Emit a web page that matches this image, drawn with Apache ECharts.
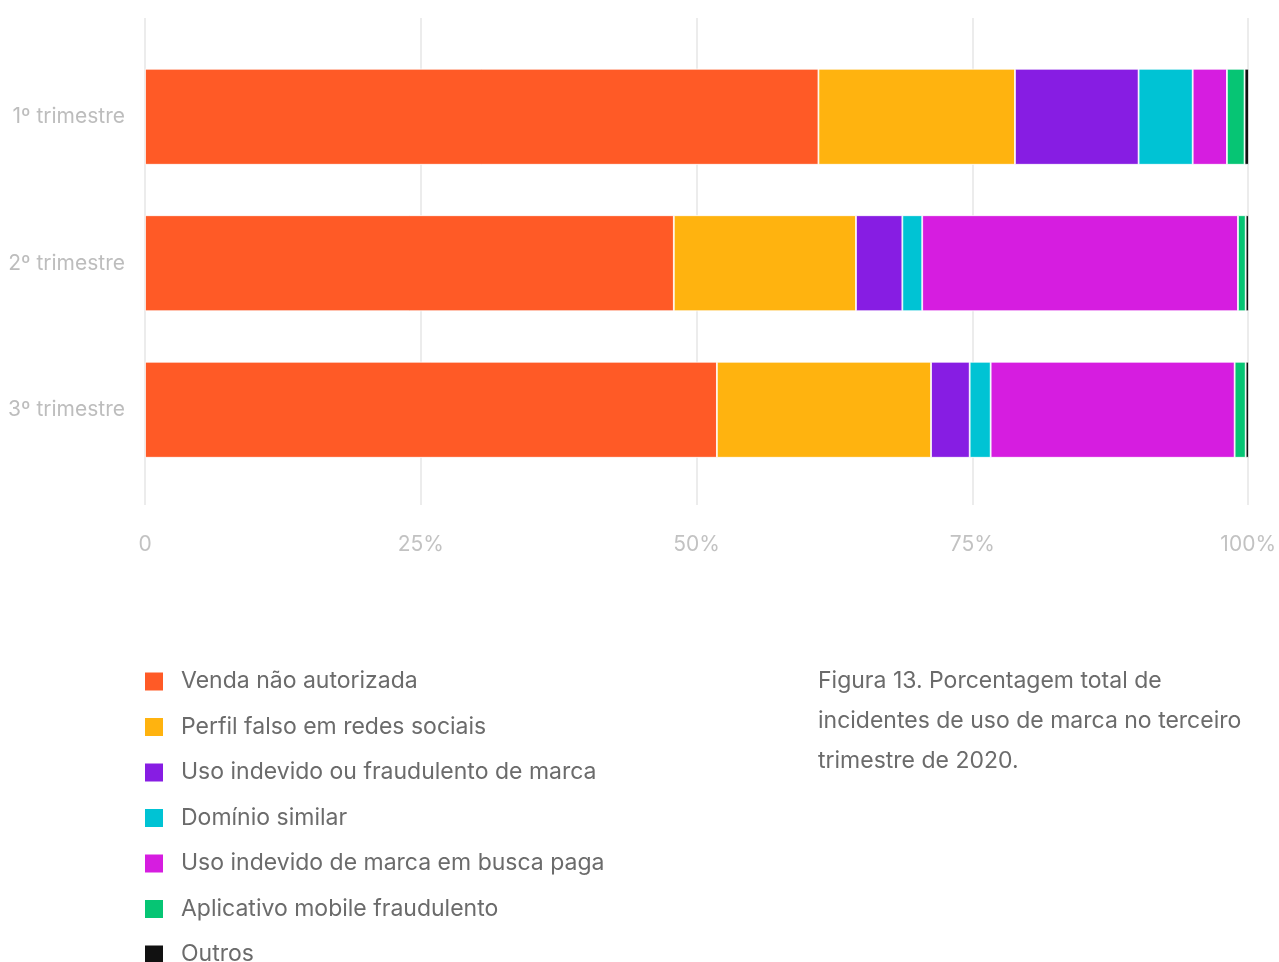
<!DOCTYPE html>
<html>
<head>
<meta charset="utf-8">
<script src="https://cdn.jsdelivr.net/npm/echarts@6/dist/echarts.min.js"></script>
<style>
  html, body { margin: 0; padding: 0; background: #ffffff; }
  #chart { width: 1279px; height: 962px; }
</style>
</head>
<body>
<div id="chart"></div>
<script>
// Quarters shown on the category axis (top to bottom)
const quarters = ['1º trimestre', '2º trimestre', '3º trimestre'];

// Share of incidents (%) per type, one value per quarter
const vendaNaoAutorizada = [61.0, 47.9, 51.8];
const perfilFalso        = [17.8, 16.5, 19.4];
const usoFraudulento     = [11.2, 4.2, 3.5];
const dominioSimilar     = [4.9, 1.8, 1.9];
const buscaPaga          = [3.1, 28.6, 22.1];
const appMobile          = [1.6, 0.7, 1.0];
const outros             = [0.4, 0.3, 0.3];

// Percentage axis ticks
const xTicks = [0, 25, 50, 75, 100];

const seriesDefs = [
  { name: 'Venda não autorizada', data: vendaNaoAutorizada, color: '#FF5A26' },
  { name: 'Perfil falso em redes sociais', data: perfilFalso, color: '#FFB30F' },
  { name: 'Uso indevido ou fraudulento de marca', data: usoFraudulento, color: '#871DE3' },
  { name: 'Domínio similar', data: dominioSimilar, color: '#00C3D4' },
  { name: 'Uso indevido de marca em busca paga', data: buscaPaga, color: '#D61DE0' },
  { name: 'Aplicativo mobile fraudulento', data: appMobile, color: '#06C574' },
  { name: 'Outros', data: outros, color: '#111111' }
];

const caption = 'Figura 13. Porcentagem total de\nincidentes de uso de marca no terceiro\ntrimestre de 2020.';

const chart = echarts.init(document.getElementById('chart'), null, { renderer: 'canvas' });

const option = {
  backgroundColor: '#ffffff',
  animation: false,
  textStyle: { fontFamily: 'Inter, "Noto Sans", sans-serif' },
  title: {
    text: caption,
    left: 818,
    top: 661,
    padding: 0,
    textStyle: {
      fontFamily: 'Inter, "Noto Sans", sans-serif',
      fontSize: 23,
      fontWeight: 'normal',
      color: '#6b6b6b',
      lineHeight: 40
    }
  },
  legend: {
    orient: 'vertical',
    left: 145,
    top: 670,
    height: 330,
    padding: 0,
    itemWidth: 18,
    itemHeight: 18,
    itemGap: 22.5,
    icon: 'rect',
    selectedMode: false,
    itemStyle: { borderWidth: 0 },
    textStyle: {
      fontFamily: 'Inter, "Noto Sans", sans-serif',
      fontSize: 23,
      lineHeight: 21,
      color: '#6b6b6b',
      padding: [0, 0, 0, 13]
    },
    data: seriesDefs.map(s => s.name)
  },
  grid: [
    // bars
    { left: 145, right: 30, top: 43.5, height: 439.5, containLabel: false },
    // grid lines and percentage labels
    { left: 145, right: 30, top: 18, height: 487, containLabel: false }
  ],
  xAxis: [
    {
      gridIndex: 0, type: 'value', min: 0, max: 100,
      show: false
    },
    {
      gridIndex: 1, type: 'value', min: 0, max: 100, interval: 25,
      axisLine: { show: false },
      axisTick: { show: false },
      splitLine: { show: true, lineStyle: { color: '#ececec', width: 2 } },
      axisLabel: {
        margin: 29,
        fontSize: 21,
        color: '#c2c2c2',
        fontFamily: 'Inter, "Noto Sans", sans-serif',
        customValues: xTicks,
        formatter: v => (v === 0 ? '0' : v + '%')
      }
    }
  ],
  yAxis: [
    {
      gridIndex: 0, type: 'category', data: quarters, inverse: true,
      axisLine: { show: false },
      axisTick: { show: false },
      splitLine: { show: false },
      axisLabel: {
        margin: 20,
        fontSize: 21,
        color: '#bdbdbd',
        fontFamily: 'Inter, "Noto Sans", sans-serif'
      }
    },
    {
      gridIndex: 1, type: 'value', show: false
    }
  ],
  series: seriesDefs.map(s => ({
    name: s.name,
    type: 'bar',
    stack: 'total',
    xAxisIndex: 0,
    yAxisIndex: 0,
    barWidth: 96,
    data: s.data,
    itemStyle: { color: s.color, borderColor: '#ffffff', borderWidth: 0.8 },
    emphasis: { disabled: true }
  })).concat([{
    // anchor series so the grid-line axes are laid out
    type: 'scatter', xAxisIndex: 1, yAxisIndex: 1, data: [], silent: true
  }])
};

chart.setOption(option);
</script>
</body>
</html>
